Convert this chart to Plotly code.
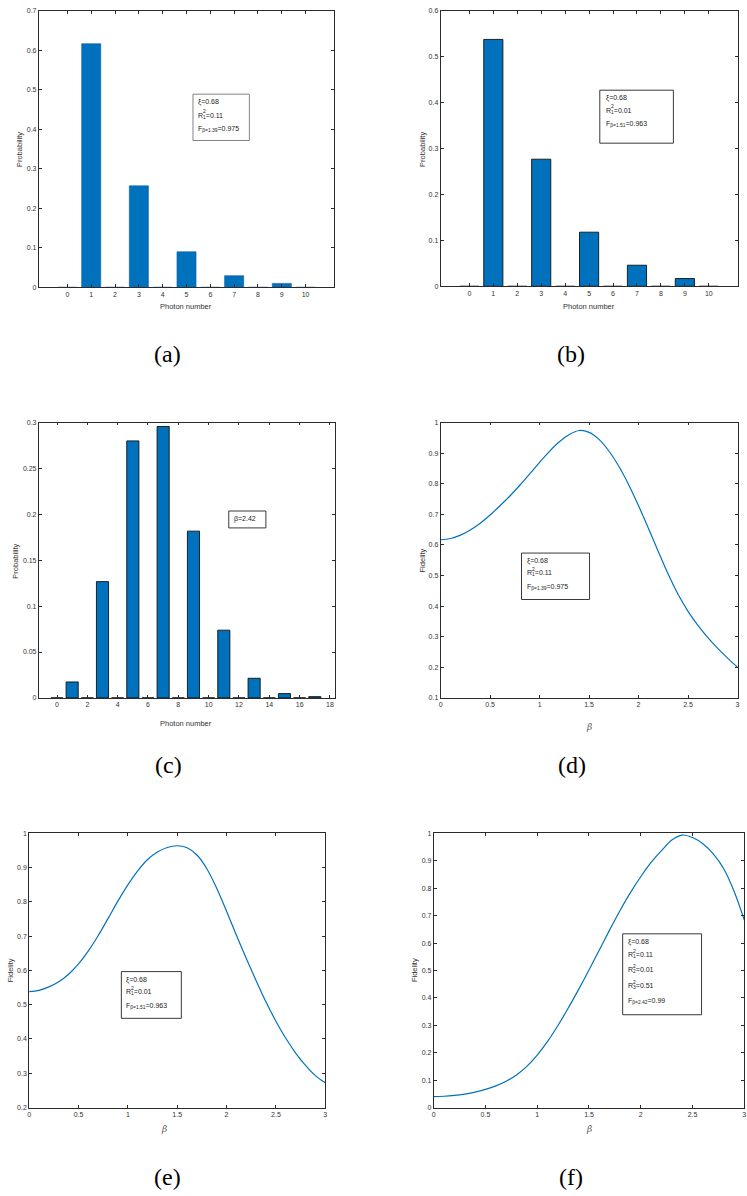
import plotly.graph_objects as go

W, H = 747, 1196

# ---------------- data ----------------
photon_a = list(range(0, 11))
prob_a = [0, 0.617, 0, 0.257, 0, 0.090, 0, 0.0295, 0, 0.010, 0]

photon_b = list(range(0, 11))
prob_b = [0, 0.538, 0, 0.277, 0, 0.118, 0, 0.046, 0, 0.017, 0]

photon_c = list(range(0, 18))
prob_c = [0, 0.0174, 0, 0.1267, 0, 0.280, 0, 0.2957, 0, 0.1817, 0, 0.0738, 0, 0.0214, 0, 0.0047, 0, 0.0014]

beta = [0.0, 0.1, 0.2, 0.3, 0.4, 0.5, 0.6, 0.7, 0.8, 0.9, 1.0, 1.1, 1.2, 1.3, 1.4, 1.5,
        1.6, 1.7, 1.8, 1.9, 2.0, 2.1, 2.2, 2.3, 2.4, 2.5, 2.6, 2.7, 2.8, 2.9, 3.0]
fid_d = [0.617, 0.621, 0.632, 0.649, 0.671, 0.698, 0.728, 0.760, 0.795, 0.832, 0.870,
         0.906, 0.937, 0.961, 0.974, 0.968, 0.945, 0.907, 0.857, 0.797, 0.728, 0.654,
         0.578, 0.504, 0.438, 0.383, 0.337, 0.297, 0.262, 0.230, 0.200]
fid_e = [0.538, 0.542, 0.552, 0.567, 0.589, 0.619, 0.657, 0.702, 0.752, 0.803, 0.850,
         0.891, 0.924, 0.946, 0.959, 0.964, 0.958, 0.937, 0.897, 0.840, 0.773, 0.703,
         0.635, 0.570, 0.508, 0.452, 0.402, 0.359, 0.323, 0.293, 0.272]
fid_f = [0.040, 0.041, 0.044, 0.049, 0.056, 0.066, 0.079, 0.096, 0.119, 0.150, 0.191,
         0.241, 0.299, 0.363, 0.431, 0.502, 0.575, 0.648, 0.719, 0.784, 0.842, 0.894,
         0.937, 0.976, 0.994, 0.985, 0.962, 0.925, 0.872, 0.790, 0.684]

xt_ab = list(range(0, 11))
xt_c = [0, 2, 4, 6, 8, 10, 12, 14, 16, 18]
yt_a = [0, 0.1, 0.2, 0.3, 0.4, 0.5, 0.6, 0.7]
yt_a_lbl = ["0", "0.1", "0.2", "0.3", "0.4", "0.5", "0.6", "0.7"]
yt_b = [0, 0.1, 0.2, 0.3, 0.4, 0.5, 0.6]
yt_b_lbl = ["0", "0.1", "0.2", "0.3", "0.4", "0.5", "0.6"]
yt_c = [0, 0.05, 0.1, 0.15, 0.2, 0.25, 0.3]
yt_c_lbl = ["0", "0.05", "0.1", "0.15", "0.2", "0.25", "0.3"]
xt_beta = [0, 0.5, 1, 1.5, 2, 2.5, 3]
xt_beta_lbl = ["0", "0.5", "1", "1.5", "2", "2.5", "3"]
yt_d = [0.1, 0.2, 0.3, 0.4, 0.5, 0.6, 0.7, 0.8, 0.9, 1.0]
yt_d_lbl = ["0.1", "0.2", "0.3", "0.4", "0.5", "0.6", "0.7", "0.8", "0.9", "1"]
yt_e = [0.2, 0.3, 0.4, 0.5, 0.6, 0.7, 0.8, 0.9, 1.0]
yt_e_lbl = ["0.2", "0.3", "0.4", "0.5", "0.6", "0.7", "0.8", "0.9", "1"]
yt_f = [0, 0.1, 0.2, 0.3, 0.4, 0.5, 0.6, 0.7, 0.8, 0.9, 1.0]
yt_f_lbl = ["0", "0.1", "0.2", "0.3", "0.4", "0.5", "0.6", "0.7", "0.8", "0.9", "1"]

# ---------------- helpers ----------------
def px(x):
    return x / W

def py(y):
    return 1 - y / H

BLUE = "#0072BD"
AX = "#2b2b2b"
FONT = "Liberation Sans"

fig = go.Figure()

# panel definitions: (x0, x1, ytop, ybottom) in pixels
panels = {
    1: dict(box=(37, 334, 7, 285), xr=[-1.2, 11.2], yr=[0, 0.7], xt=xt_ab, xl=[str(v) for v in xt_ab], yt=yt_a, yl=yt_a_lbl),
    2: dict(box=(441, 739.5, 7, 284), xr=[-1.2, 11.2], yr=[0, 0.6], xt=xt_ab, xl=[str(v) for v in xt_ab], yt=yt_b, yl=yt_b_lbl),
    3: dict(box=(37, 334.3, 421, 698), xr=[-1.2, 18.3], yr=[0, 0.3], xt=xt_c, xl=[str(v) for v in xt_c], yt=yt_c, yl=yt_c_lbl),
    4: dict(box=(441, 739.5, 421, 698), xr=[0, 3], yr=[0.1, 1], xt=xt_beta, xl=xt_beta_lbl, yt=yt_d, yl=yt_d_lbl),
    5: dict(box=(27.3, 325, 834.3, 1110), xr=[0, 3], yr=[0.2, 1], xt=xt_beta, xl=xt_beta_lbl, yt=yt_e, yl=yt_e_lbl),
    6: dict(box=(434, 746.3, 834.3, 1110), xr=[0, 3], yr=[0, 1], xt=xt_beta, xl=xt_beta_lbl, yt=yt_f, yl=yt_f_lbl),
}

layout = dict(width=W, height=H, margin=dict(l=0, r=0, t=0, b=0),
              paper_bgcolor="white", plot_bgcolor="white", showlegend=False)

for i, p in panels.items():
    x0, x1, yt0, yb1 = p["box"]
    sx = "" if i == 1 else str(i)
    common = dict(ticks="inside", ticklen=3, tickwidth=0.6, tickcolor=AX, showline=True,
                  linecolor=AX, linewidth=0.8, mirror="ticks", showgrid=False, zeroline=False,
                  tickfont=dict(family=FONT, size=7, color="#333333"), fixedrange=True,
                  ticklabeloverflow="allow")
    layout["xaxis" + sx] = dict(domain=[px(x0), px(x1)], range=p["xr"], anchor="y" + sx,
                                tickvals=p["xt"], ticktext=p["xl"], **common)
    layout["yaxis" + sx] = dict(domain=[py(yb1), py(yt0)], range=p["yr"], anchor="x" + sx,
                                tickvals=p["yt"], ticktext=p["yl"], **common)

fig.update_layout(**layout)

# bars
fig.add_trace(go.Bar(x=photon_a, y=prob_a, width=0.8, marker=dict(color=BLUE, line=dict(color="#0a5a9c", width=0.6)),
                     xaxis="x", yaxis="y"))
fig.add_trace(go.Bar(x=photon_b, y=prob_b, width=0.8, marker=dict(color=BLUE, line=dict(color="#111111", width=0.9)),
                     xaxis="x2", yaxis="y2"))
fig.add_trace(go.Bar(x=photon_c, y=prob_c, width=0.8, marker=dict(color=BLUE, line=dict(color="#111111", width=0.9)),
                     xaxis="x3", yaxis="y3"))
# curves
for k, fid in zip([4, 5, 6], [fid_d, fid_e, fid_f]):
    fig.add_trace(go.Scatter(x=beta, y=fid, mode="lines",
                             line=dict(color=BLUE, width=1.2, shape="spline", smoothing=1.0),
                             xaxis="x" + str(k), yaxis="y" + str(k)))

ann = []
shapes = []

def label(x, y, text, size=7.5, angle=0, color="#333333", family=FONT, xanchor="center", yanchor="middle"):
    ann.append(dict(x=px(x), y=py(y), xref="paper", yref="paper", text=text, showarrow=False,
                    font=dict(family=family, size=size, color=color), textangle=angle,
                    xanchor=xanchor, yanchor=yanchor))

# axis titles
label(17, 146, "Probability", angle=-90)
label(185, 304, "Photon number")
label(422, 146, "Probability", angle=-90)
label(590, 304, "Photon number")
label(14, 560, "Probability", angle=-90)
label(185, 724, "Photon number")
label(423, 560, "Fidelity", angle=-90)
label(590, 727, "<i>β</i>", size=9, family="DejaVu Serif", color="#555555")
label(8, 972, "Fidelity", angle=-90)
label(163, 1132, "<i>β</i>", size=9, family="DejaVu Serif", color="#555555")
label(415, 972, "Fidelity", angle=-90)
label(590, 1132, "<i>β</i>", size=9, family="DejaVu Serif", color="#555555")

# captions
for (cx, cy, t) in [(166, 352, "(a)"), (572, 352, "(b)"), (167, 765, "(c)"),
                    (573, 765, "(d)"), (166, 1180, "(e)"), (572, 1180, "(f)")]:
    label(cx, cy, t, size=24, family="Liberation Serif", color="#000000")

# text boxes
def box(x0, y0, x1, y1, color="#222222", width=0.9):
    shapes.append(dict(type="rect", xref="paper", yref="paper", x0=px(x0), x1=px(x1), y0=py(y1), y1=py(y0),
                       line=dict(color=color, width=width), fillcolor="white", layer="above"))

def line_txt(x, y, text, size=7):
    label(x, y, text, size=size, color="#222222", xanchor="left")

def rline(x, y, sub, val):
    line_txt(x, y, "R<sub>" + sub + "</sub>=" + val)
    label(x + 5.2, y - 4.2, "2", size=5, color="#222222", xanchor="left")

def fline(x, y, b, val):
    line_txt(x, y, "F<sub>β=" + b + "</sub>=" + val)

# (a)
box(192, 90.7, 248.7, 137.3, color="#777777")
line_txt(195, 98.7, "ξ=0.68")
rline(195, 112.3, "1", "0.11")
fline(195, 125.5, "1.39", "0.975")
# (b)
box(601, 86.7, 675, 140)
line_txt(605, 94.5, "ξ=0.68")
rline(605, 107.3, "1", "0.01")
fline(605, 120.5, "1.51", "0.963")
# (c)
box(228, 510, 265.3, 527)
line_txt(231, 518, "β=2.42")
# (d)
box(522.3, 552.3, 590.7, 599)
line_txt(525.5, 560.3, "ξ=0.68")
rline(525.5, 572.7, "1", "0.11")
fline(525.5, 586.3, "1.39", "0.975")
# (e)
box(120, 973.3, 180.3, 1020.3)
line_txt(122.5, 981.7, "ξ=0.68")
rline(122.5, 994, "1", "0.01")
fline(122.5, 1008, "1.51", "0.963")
# (f)
box(624, 935.3, 703.3, 1016.7)
line_txt(627.5, 944, "ξ=0.68")
rline(627.5, 956.5, "1", "0.11")
rline(627.5, 972, "2", "0.01")
rline(627.5, 988, "3", "0.51")
fline(627.5, 1002.5, "2.42", "0.99")

fig.update_layout(annotations=ann, shapes=shapes)
fig.write_html("out.html", config={"displayModeBar": False},
               post_script="document.body.style.margin='0px';")
